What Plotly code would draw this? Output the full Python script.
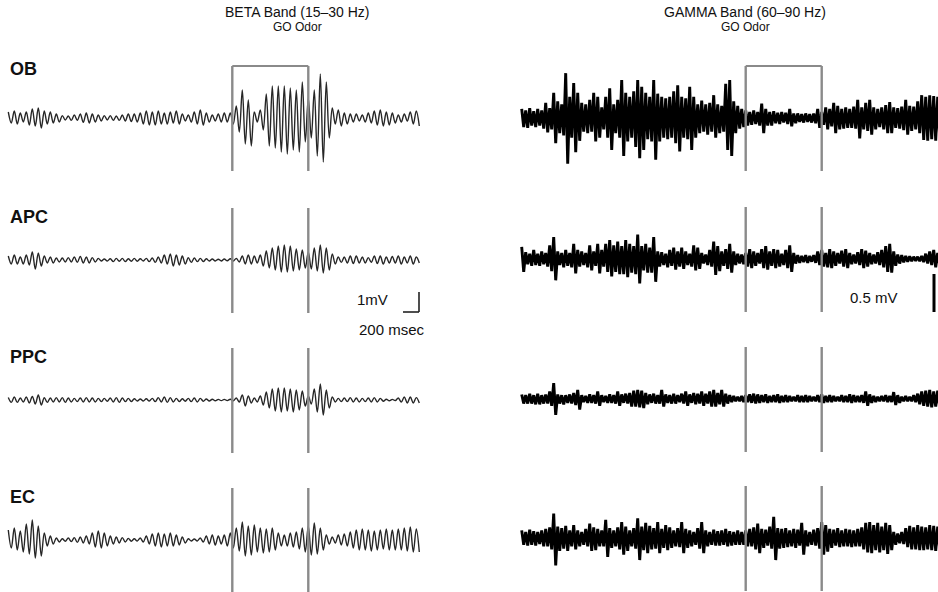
import plotly.graph_objects as go

# ---------------- DATA ----------------
channels = ["OB", "APC", "PPC", "EC"]
odor_window_ms = [0, 950]          # GO odor onset / offset (ms)
beta_t0_ms = -2800                  # first beta extremum time
beta_half_cycle_ms = 37.5           # spacing of successive extrema
gamma_t0_ms = -2800
gamma_step_ms = 50                  # one gamma (peak, trough) pair per 50 ms

# Beta band (15-30 Hz): per cycle (peak, trough) amplitudes in mV
beta_ob = [(0.3,0.25),(0.35,0.3),(0.25,0.2),(0.3,0.35),(0.45,0.4),(0.5,0.5),(0.35,0.3),(0.3,0.25),(0.2,0.2),(0.12,0.1),
           (0.1,0.12),(0.15,0.12),(0.2,0.22),(0.25,0.25),(0.2,0.2),(0.15,0.15),(0.12,0.1),(0.12,0.12),(0.1,0.12),(0.15,0.15),
           (0.2,0.18),(0.2,0.2),(0.25,0.3),(0.35,0.35),(0.3,0.35),(0.35,0.3),(0.25,0.3),(0.3,0.25),(0.35,0.3),(0.2,0.15),
           (0.15,0.2),(0.3,0.3),(0.4,0.35),(0.25,0.2),(0.15,0.15),(0.2,0.2),(0.25,0.2),(0.25,0.3),(0.6,0.7),(1.4,1.3),
           (0.9,1.4),(0.3,0.2),(0.4,0.6),(1.2,1.4),(1.6,1.5),(1.6,1.7),(1.6,1.8),(1.5,1.6),(1.4,1.7),(1.8,1.2),
           (1.0,1.0),(1.4,1.9),(2.2,2.2),(1.8,1.0),(0.5,0.3),(0.4,0.4),(0.25,0.3),(0.2,0.2),(0.2,0.15),(0.15,0.2),
           (0.25,0.25),(0.35,0.35),(0.4,0.4),(0.3,0.35),(0.25,0.25),(0.15,0.2),(0.2,0.15),(0.3,0.3),(0.35,0.4)]
beta_apc = [(0.2,0.2),(0.25,0.2),(0.15,0.2),(0.25,0.25),(0.4,0.45),(0.35,0.3),(0.2,0.15),(0.15,0.15),(0.1,0.1),(0.1,0.1),
            (0.12,0.1),(0.15,0.12),(0.18,0.15),(0.15,0.15),(0.12,0.1),(0.08,0.05),(0.05,0.05),(0.06,0.08),(0.08,0.06),(0.08,0.08),
            (0.06,0.06),(0.08,0.06),(0.06,0.05),(0.08,0.08),(0.1,0.12),(0.15,0.15),(0.25,0.2),(0.3,0.3),(0.25,0.25),(0.2,0.2),
            (0.12,0.12),(0.1,0.08),(0.08,0.08),(0.06,0.05),(0.05,0.05),(0.04,0.05),(0.05,0.04),(0.06,0.05),(0.08,0.1),(0.2,0.2),
            (0.25,0.2),(0.2,0.15),(0.25,0.3),(0.45,0.4),(0.6,0.5),(0.7,0.6),(0.75,0.6),(0.7,0.55),(0.55,0.5),(0.5,0.4),
            (0.4,0.45),(0.6,0.55),(0.75,0.65),(0.6,0.5),(0.3,0.2),(0.15,0.12),(0.15,0.15),(0.2,0.18),(0.2,0.15),(0.15,0.15),
            (0.12,0.12),(0.2,0.18),(0.2,0.2),(0.15,0.15),(0.18,0.15),(0.2,0.2),(0.15,0.15),(0.2,0.2),(0.15,0.15)]
beta_ppc = [(0.12,0.12),(0.15,0.12),(0.1,0.1),(0.15,0.15),(0.18,0.2),(0.25,0.25),(0.12,0.12),(0.1,0.1),(0.12,0.1),(0.12,0.12),
            (0.1,0.1),(0.08,0.08),(0.1,0.1),(0.12,0.1),(0.1,0.1),(0.08,0.08),(0.08,0.06),(0.1,0.1),(0.12,0.12),(0.1,0.08),
            (0.08,0.08),(0.06,0.05),(0.05,0.05),(0.06,0.05),(0.08,0.08),(0.12,0.1),(0.15,0.12),(0.12,0.1),(0.08,0.08),(0.06,0.06),
            (0.08,0.08),(0.1,0.1),(0.08,0.06),(0.05,0.05),(0.04,0.04),(0.03,0.03),(0.03,0.03),(0.04,0.04),(0.1,0.1),(0.25,0.3),
            (0.2,0.15),(0.1,0.1),(0.2,0.25),(0.4,0.4),(0.55,0.55),(0.6,0.6),(0.6,0.55),(0.55,0.6),(0.5,0.5),(0.45,0.3),
            (0.2,0.2),(0.55,0.6),(0.8,0.75),(0.5,0.4),(0.15,0.1),(0.08,0.08),(0.1,0.08),(0.12,0.1),(0.1,0.1),(0.08,0.08),
            (0.1,0.1),(0.12,0.1),(0.08,0.06),(0.04,0.04),(0.03,0.03),(0.1,0.1),(0.15,0.15),(0.15,0.15),(0.12,0.15)]
beta_ec = [(0.5,0.4),(0.6,0.5),(0.45,0.6),(0.8,0.7),(1.0,0.9),(0.7,0.8),(0.35,0.3),(0.2,0.2),(0.1,0.1),(0.06,0.06),
           (0.1,0.08),(0.12,0.12),(0.15,0.15),(0.2,0.2),(0.35,0.35),(0.45,0.4),(0.35,0.3),(0.2,0.2),(0.15,0.15),(0.12,0.1),
           (0.08,0.06),(0.06,0.05),(0.1,0.1),(0.2,0.2),(0.3,0.3),(0.35,0.35),(0.3,0.3),(0.35,0.3),(0.25,0.25),(0.15,0.15),
           (0.06,0.05),(0.05,0.05),(0.1,0.1),(0.2,0.2),(0.25,0.25),(0.2,0.2),(0.25,0.3),(0.35,0.4),(0.6,0.55),(0.9,0.8),
           (0.7,0.75),(0.75,0.6),(0.6,0.65),(0.55,0.6),(0.6,0.5),(0.35,0.3),(0.25,0.3),(0.35,0.35),(0.4,0.45),(0.6,0.6),
           (0.7,0.75),(0.85,0.7),(0.6,0.5),(0.25,0.2),(0.15,0.15),(0.25,0.25),(0.3,0.3),(0.4,0.4),(0.5,0.5),(0.55,0.5),
           (0.5,0.55),(0.45,0.5),(0.5,0.45),(0.55,0.5),(0.5,0.5),(0.55,0.5),(0.6,0.55),(0.65,0.6),(0.55,0.6)]

# Gamma band (60-90 Hz): peak (up) / trough (lo) amplitude in mV, one pair per 50 ms
gamma_ob_up = [0.12,0.1,0.13,0.09,0.12,0.1,0.2,0.13,
               0.33,0.22,0.18,0.59,0.28,0.46,0.33,0.2,0.18,0.24,0.33,0.28,
               0.14,0.28,0.39,0.18,0.24,0.5,0.33,0.28,0.35,0.5,0.41,0.33,0.28,0.5,0.32,0.28,0.26,0.28,0.35,0.43,
               0.28,0.26,0.41,0.28,0.18,0.23,0.18,0.2,0.3,0.18,0.16,0.45,0.5,0.22,0.16,0.12,0.1,0.08,0.1,0.08,
               0.19,0.12,0.08,0.09,0.07,0.08,0.07,0.12,0.06,0.06,0.05,0.06,0.05,0.06,0.12,0.08,0.14,0.12,0.2,0.16,
               0.12,0.14,0.12,0.15,0.24,0.14,0.2,0.24,0.14,0.12,0.14,0.17,0.21,0.14,0.13,0.15,0.24,0.16,0.15,0.22,
               0.3,0.28,0.3,0.29,0.28]
gamma_ob_lo = [0.12,0.13,0.1,0.12,0.1,0.14,0.19,0.15,
               0.33,0.2,0.23,0.6,0.26,0.45,0.3,0.18,0.2,0.18,0.31,0.26,
               0.15,0.26,0.42,0.2,0.26,0.5,0.31,0.26,0.38,0.53,0.42,0.28,0.31,0.55,0.31,0.26,0.28,0.26,0.33,0.44,
               0.26,0.28,0.42,0.26,0.2,0.18,0.22,0.18,0.26,0.2,0.18,0.42,0.5,0.2,0.14,0.12,0.1,0.09,0.08,0.1,
               0.2,0.1,0.1,0.07,0.08,0.06,0.08,0.11,0.07,0.05,0.06,0.05,0.06,0.07,0.13,0.09,0.15,0.11,0.2,0.15,
               0.14,0.13,0.13,0.14,0.27,0.15,0.17,0.22,0.15,0.12,0.15,0.2,0.2,0.13,0.14,0.16,0.22,0.17,0.15,0.2,
               0.29,0.3,0.28,0.3,0.27]
gamma_apc_up = [0.16,0.09,0.07,0.12,0.07,0.1,0.08,0.18,0.29,0.1,0.08,0.12,0.08,0.2,0.12,0.1,0.08,0.18,0.1,0.2,
                0.12,0.2,0.25,0.18,0.23,0.17,0.25,0.2,0.17,0.32,0.17,0.2,0.15,0.29,0.1,0.09,0.07,0.12,0.15,0.1,
                0.15,0.1,0.07,0.18,0.15,0.08,0.06,0.12,0.23,0.17,0.1,0.13,0.2,0.1,0.07,0.06,0.08,0.13,0.1,0.08,
                0.13,0.17,0.1,0.13,0.12,0.07,0.12,0.18,0.08,0.05,0.04,0.05,0.04,0.05,0.1,0.12,0.08,0.13,0.1,0.08,
                0.11,0.13,0.08,0.06,0.09,0.13,0.11,0.08,0.06,0.09,0.12,0.17,0.2,0.1,0.06,0.05,0.04,0.035,0.03,0.03,
                0.04,0.07,0.1,0.12,0.08]
gamma_apc_lo = [0.17,0.07,0.09,0.08,0.09,0.07,0.1,0.16,0.28,0.08,0.11,0.09,0.11,0.19,0.1,0.08,0.11,0.15,0.09,0.19,
                0.1,0.17,0.23,0.17,0.2,0.2,0.24,0.18,0.2,0.32,0.15,0.18,0.18,0.3,0.1,0.08,0.11,0.09,0.14,0.1,
                0.13,0.08,0.1,0.15,0.13,0.06,0.08,0.1,0.21,0.16,0.09,0.13,0.18,0.08,0.06,0.07,0.1,0.12,0.09,0.06,
                0.12,0.14,0.09,0.12,0.1,0.08,0.12,0.17,0.06,0.05,0.04,0.05,0.035,0.05,0.08,0.1,0.11,0.12,0.09,0.06,
                0.1,0.12,0.07,0.06,0.08,0.12,0.1,0.07,0.06,0.08,0.11,0.17,0.18,0.09,0.06,0.045,0.035,0.03,0.025,0.03,
                0.04,0.06,0.08,0.11,0.08]
gamma_ppc_up = [0.06,0.05,0.07,0.05,0.07,0.05,0.06,0.1,0.21,0.06,0.05,0.05,0.06,0.08,0.12,0.05,0.04,0.06,0.05,0.1,
                0.05,0.04,0.06,0.05,0.1,0.06,0.07,0.08,0.11,0.12,0.11,0.08,0.06,0.07,0.05,0.12,0.06,0.05,0.07,0.05,
                0.07,0.1,0.06,0.08,0.07,0.1,0.07,0.1,0.12,0.08,0.12,0.07,0.05,0.04,0.03,0.04,0.05,0.06,0.07,0.06,
                0.05,0.06,0.04,0.05,0.06,0.04,0.05,0.04,0.03,0.05,0.04,0.05,0.04,0.03,0.05,0.06,0.04,0.05,0.04,0.03,
                0.05,0.04,0.06,0.05,0.04,0.05,0.1,0.06,0.04,0.03,0.04,0.05,0.04,0.09,0.05,0.03,0.04,0.03,0.05,0.07,
                0.1,0.11,0.12,0.1,0.11]
gamma_ppc_lo = [0.06,0.06,0.06,0.07,0.07,0.06,0.06,0.09,0.21,0.06,0.07,0.05,0.06,0.08,0.14,0.04,0.05,0.05,0.06,0.09,
                0.04,0.05,0.05,0.06,0.09,0.05,0.06,0.1,0.1,0.11,0.12,0.07,0.05,0.06,0.06,0.1,0.05,0.06,0.06,0.04,
                0.06,0.09,0.05,0.07,0.06,0.09,0.06,0.1,0.1,0.07,0.1,0.06,0.04,0.03,0.03,0.04,0.04,0.05,0.06,0.05,
                0.04,0.05,0.04,0.04,0.05,0.04,0.04,0.03,0.03,0.04,0.04,0.04,0.03,0.03,0.04,0.05,0.04,0.04,0.03,0.03,
                0.04,0.04,0.05,0.04,0.04,0.05,0.09,0.05,0.04,0.03,0.03,0.04,0.04,0.08,0.05,0.03,0.03,0.03,0.04,0.07,
                0.09,0.1,0.11,0.1,0.1]
gamma_ec_up = [0.1,0.08,0.11,0.09,0.08,0.1,0.12,0.14,0.32,0.15,0.13,0.16,0.1,0.17,0.1,0.08,0.12,0.19,0.14,0.12,
               0.1,0.24,0.13,0.1,0.14,0.21,0.15,0.1,0.13,0.26,0.15,0.2,0.16,0.13,0.21,0.12,0.17,0.14,0.1,0.13,
               0.21,0.12,0.1,0.08,0.13,0.21,0.1,0.08,0.11,0.09,0.1,0.12,0.09,0.08,0.1,0.08,0.1,0.12,0.14,0.19,
               0.12,0.11,0.15,0.28,0.13,0.12,0.13,0.1,0.12,0.11,0.2,0.1,0.08,0.11,0.13,0.21,0.17,0.12,0.11,0.13,
               0.1,0.12,0.11,0.1,0.12,0.14,0.2,0.21,0.17,0.2,0.15,0.2,0.17,0.08,0.06,0.08,0.13,0.16,0.14,0.17,
               0.15,0.14,0.17,0.16,0.15]
gamma_ec_lo = [0.09,0.1,0.09,0.1,0.08,0.11,0.11,0.15,0.36,0.17,0.14,0.17,0.11,0.15,0.11,0.09,0.11,0.17,0.16,0.11,
               0.11,0.25,0.13,0.11,0.15,0.22,0.17,0.11,0.14,0.29,0.16,0.2,0.15,0.14,0.2,0.13,0.16,0.13,0.11,0.12,
               0.2,0.13,0.11,0.09,0.14,0.2,0.11,0.09,0.1,0.1,0.09,0.11,0.1,0.09,0.09,0.09,0.11,0.11,0.15,0.2,
               0.13,0.1,0.14,0.29,0.14,0.13,0.12,0.11,0.13,0.1,0.22,0.11,0.09,0.1,0.14,0.22,0.18,0.13,0.1,0.12,
               0.11,0.11,0.12,0.11,0.11,0.15,0.19,0.2,0.16,0.19,0.16,0.21,0.16,0.09,0.07,0.08,0.12,0.15,0.15,0.16,
               0.16,0.15,0.16,0.17,0.15]

# ---------------- LAYOUT CONSTANTS ----------------
W, H = 938, 592
MS_PER_PX = 12.5
BETA_PX_PER_MV = 20.0
GAMMA_PX_PER_MV = 76.0
beta_onset_px, gamma_onset_px = 232.3, 745.7
left_dom = [0, 460 / W]
right_dom = [500 / W, 1.0]
baseline_px = {"beta": [118, 260, 400, 540], "gamma": [118, 259, 399, 538]}
line_half_px = (52, 53)  # top / bottom extent of the odor markers

def bx_range():
    return [-beta_onset_px * MS_PER_PX, (460 - beta_onset_px) * MS_PER_PX]

def gx_range():
    return [(500 - gamma_onset_px) * MS_PER_PX, (W - gamma_onset_px) * MS_PER_PX]

beta_yr = [0, H / BETA_PX_PER_MV]
gamma_yr = [0, H / GAMMA_PX_PER_MV]

def by(px):
    return (H - px) / BETA_PX_PER_MV

def gy(px):
    return (H - px) / GAMMA_PX_PER_MV

fig = go.Figure()

# ---- Beta traces ----
beta_sets = [beta_ob, beta_apc, beta_ppc, beta_ec]
for ch, pairs, bpx in zip(channels, beta_sets, baseline_px["beta"]):
    base = by(bpx)
    vals = []
    for p, t in pairs:
        vals.extend([p, -t])
    xs = [beta_t0_ms + i * beta_half_cycle_ms for i in range(len(vals))]
    ys = [base + v for v in vals]
    fig.add_trace(go.Scatter(x=xs, y=ys, mode="lines", xaxis="x", yaxis="y",
                             line=dict(color="#262626", width=1.4, shape="spline", smoothing=1.0),
                             hoverinfo="skip", showlegend=False, name=ch + " beta"))

# ---- Gamma traces: dense peak/trough zigzag ----
gamma_sets = [(gamma_ob_up, gamma_ob_lo), (gamma_apc_up, gamma_apc_lo),
              (gamma_ppc_up, gamma_ppc_lo), (gamma_ec_up, gamma_ec_lo)]
for ch, (up, lo), bpx in zip(channels, gamma_sets, baseline_px["gamma"]):
    base = gy(bpx)
    xs, ys = [], []
    for i, (u, l) in enumerate(zip(up, lo)):
        t = gamma_t0_ms + i * gamma_step_ms
        xs.extend([t, t + gamma_step_ms / 2])
        ys.extend([base + u, base - l])
    fig.add_trace(go.Scatter(x=xs, y=ys, mode="lines", xaxis="x2", yaxis="y2",
                             line=dict(color="#000000", width=2.9),
                             hoverinfo="skip", showlegend=False, name=ch + " gamma"))

# ---- Odor markers ----
shapes = []
marker_color = "#8a8a8a"
for k, bpx in enumerate(baseline_px["beta"]):
    for t in odor_window_ms:
        shapes.append(dict(type="line", xref="x", yref="y", x0=t, x1=t,
                           y0=by(bpx - line_half_px[0]), y1=by(bpx + line_half_px[1]),
                           line=dict(color=marker_color, width=2.4)))
    if k == 0:
        shapes.append(dict(type="line", xref="x", yref="y", x0=odor_window_ms[0], x1=odor_window_ms[1],
                           y0=by(bpx - line_half_px[0]), y1=by(bpx - line_half_px[0]),
                           line=dict(color=marker_color, width=2)))
for k, bpx in enumerate(baseline_px["gamma"]):
    for t in odor_window_ms:
        shapes.append(dict(type="line", xref="x2", yref="y2", x0=t, x1=t,
                           y0=gy(bpx - line_half_px[0]), y1=gy(bpx + line_half_px[1]),
                           line=dict(color=marker_color, width=2.4)))
    if k == 0:
        shapes.append(dict(type="line", xref="x2", yref="y2", x0=odor_window_ms[0], x1=odor_window_ms[1],
                           y0=gy(bpx - line_half_px[0]), y1=gy(bpx - line_half_px[0]),
                           line=dict(color=marker_color, width=2)))

# ---- Scale bars ----
sb_x = (419 - beta_onset_px) * MS_PER_PX
sb_ybot = by(312)
shapes.append(dict(type="line", xref="x", yref="y", x0=sb_x, x1=sb_x, y0=sb_ybot, y1=sb_ybot + 1.0,
                   line=dict(color="#222", width=1.6)))
shapes.append(dict(type="line", xref="x", yref="y", x0=sb_x - 200, x1=sb_x, y0=sb_ybot, y1=sb_ybot,
                   line=dict(color="#222", width=1.6)))
gsb_x = (934 - gamma_onset_px) * MS_PER_PX
gsb_ybot = gy(312)
shapes.append(dict(type="line", xref="x2", yref="y2", x0=gsb_x, x1=gsb_x, y0=gsb_ybot, y1=gsb_ybot + 0.5,
                   line=dict(color="#000", width=3)))

FONT = "Liberation Sans, Arial, Helvetica, sans-serif"

def ann(text, xpx, ypx, size, bold=False, xanchor="center"):
    return dict(text=("<b>%s</b>" % text) if bold else text, x=xpx / W, y=1 - ypx / H,
                xref="paper", yref="paper", showarrow=False, xanchor=xanchor, yanchor="middle",
                font=dict(family=FONT, size=size, color="#111"))

annotations = [
    ann("BETA Band (15\u201330 Hz)", 297, 12, 14),
    ann("GO Odor", 297, 27, 12),
    ann("GAMMA Band (60\u201390 Hz)", 745, 12, 14),
    ann("GO Odor", 745, 27, 12),
    ann("OB", 8, 69, 18, True, "left"),
    ann("APC", 8, 217, 18, True, "left"),
    ann("PPC", 8, 357, 18, True, "left"),
    ann("EC", 8, 497, 18, True, "left"),
    ann("1mV", 372, 299, 15),
    ann("200 msec", 392, 329, 15),
    ann("0.5 mV", 874, 297, 15),
]

axis_off = dict(visible=False, showgrid=False, zeroline=False, fixedrange=True)
fig.update_layout(
    width=W, height=H, margin=dict(l=0, r=0, t=0, b=0),
    paper_bgcolor="white", plot_bgcolor="white",
    xaxis=dict(domain=left_dom, range=bx_range(), **axis_off),
    yaxis=dict(domain=[0, 1], range=beta_yr, **axis_off),
    xaxis2=dict(domain=right_dom, range=gx_range(), anchor="y2", **axis_off),
    yaxis2=dict(domain=[0, 1], range=gamma_yr, anchor="x2", **axis_off),
    shapes=shapes, annotations=annotations, showlegend=False,
)

fig.write_html("out.html")
